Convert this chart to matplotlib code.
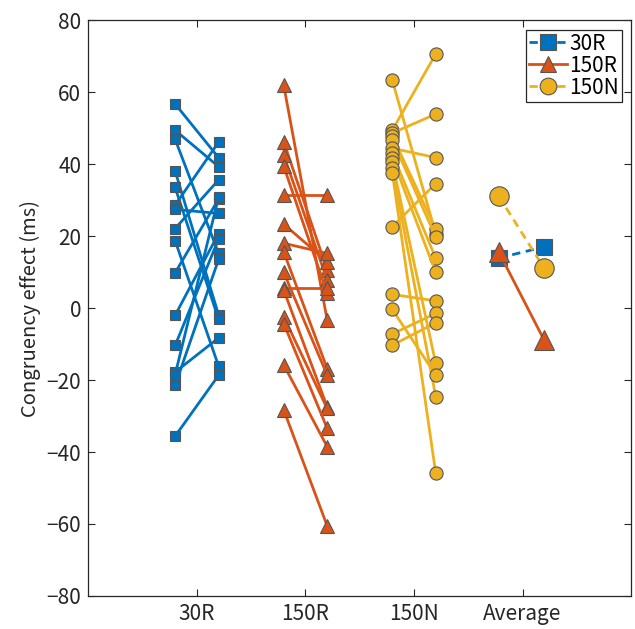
import matplotlib
matplotlib.use('Agg')
import matplotlib.pyplot as plt
import numpy as np

plt.rcParams['font.family'] = ['Noto Sans CJK JP', 'DejaVu Sans']

conditions = ['30R', '150R', '150N']
tick_labels = ['30R', '150R', '150N', 'Average']

# paired congruency effects (ms), first vs second measurement
r30_first = [56.7, 49.4, 46.9, 38.1, 33.5, 28.6, 27.4, 22.1, 18.7, 9.8, -2.0, -10.4, -17.8, -18.5, -21.5, -35.6]
r30_second = [41.8, 39.3, 15.2, -1.9, -3.1, 46.1, 26.3, 35.6, -16.1, 30.3, 20.7, 19.2, -8.3, 30.8, 13.5, -18.7]

r150_first = [61.9, 46.2, 42.5, 39.4, 31.4, 23.3, 18.0, 15.6, 9.9, 5.5, 5.0, -2.4, -4.3, -15.8, -28.3]
r150_second = [-3.3, 10.6, 7.8, 4.1, 31.4, 12.9, 15.2, -16.8, -18.6, 5.5, -27.4, -27.9, -33.4, -38.5, -60.5]

n150_first = [63.3, 49.4, 48.6, 47.8, 46.7, 44.4, 43.0, 41.6, 40.5, 38.8, 37.6, 22.6, 3.8, -0.4, -7.2, -10.3]
n150_second = [20.6, 70.6, 53.9, 21.9, 19.8, 41.8, 13.8, 9.9, -15.4, -24.6, -45.9, 34.6, 2.0, -18.6, -1.5, -4.1]

avg_first = [13.9, 15.6, 31.1]
avg_second = [17.0, -9.0, 11.0]

colors = ['#0072BD', '#D95319', '#EDB120']
markers = ['s', '^', 'o']
msizes = [7.5, 10.5, 9.5]
avg_msizes = [11, 14, 14]
avg_styles = [(0, (3, 2)), '-', (0, (3, 2))]
edge = '#555555'

fig = plt.figure(figsize=(6.35, 6.29), dpi=100)
ax = fig.add_axes([0.139, 0.0525, 0.855, 0.9155])

groups = [(r30_first, r30_second), (r150_first, r150_second), (n150_first, n150_second)]
for i, (a, b) in enumerate(groups):
    xc = i + 1
    for y1, y2 in zip(a, b):
        ax.plot([xc - 0.2, xc + 0.2], [y1, y2], '-', color=colors[i], lw=2,
                marker=markers[i], ms=msizes[i], mfc=colors[i], mec=edge, mew=0.8)

handles = []
for i in range(3):
    h, = ax.plot([4 - 0.22, 4 + 0.2], [avg_first[i], avg_second[i]], linestyle=avg_styles[i],
                 color=colors[i], lw=2, marker=markers[i], ms=avg_msizes[i],
                 mfc=colors[i], mec=edge, mew=0.8, label=conditions[i])
    handles.append(h)

ax.set_xlim(0, 5)
ax.set_ylim(-80, 80)
ax.set_xticks([1, 2, 3, 4])
ax.set_xticklabels(tick_labels)
ax.set_yticks(np.arange(-80, 81, 20))
ax.tick_params(direction='in', top=True, right=True, labelsize=15, length=5, width=0.8,
               colors='#262626', pad=5)
for s in ax.spines.values():
    s.set_linewidth(0.9)
    s.set_color('#262626')
ax.set_ylabel('Congruency effect (ms)', fontsize=14.5, color='#262626', labelpad=4)

leg = ax.legend(handles=handles, loc='upper right', fontsize=15, handlelength=1.8,
                handletextpad=0.1, borderpad=0.15, labelspacing=0.0, fancybox=False,
                framealpha=1, edgecolor='#262626', borderaxespad=0.45)
leg.get_frame().set_linewidth(0.9)
for h in leg.legend_handles:
    h.set_markersize(12)

fig.savefig('out.png', dpi=100)
